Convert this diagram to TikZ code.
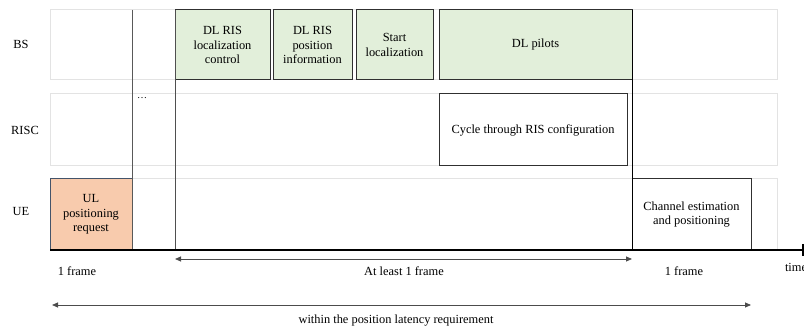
\documentclass[tikz,border=0pt]{standalone}
\usepackage{fontspec}
\setmainfont{Liberation Serif}
\usetikzlibrary{arrows.meta}
\definecolor{lanegray}{HTML}{E3E3E3}
\definecolor{dlgreen}{HTML}{E2EFDA}
\definecolor{ulorange}{HTML}{F8CBAD}
\definecolor{ulborder}{HTML}{44546A}
\definecolor{edge}{HTML}{303030}
\begin{document}
\begin{tikzpicture}[x=1pt,y=-1pt,
  every node/.style={font=\fontsize{12.4}{14.5}\selectfont, inner sep=0pt, outer sep=0pt},
  lane/.style={draw=lanegray, line width=1pt, anchor=north west},
  msg/.style={draw=edge, line width=1pt, fill=dlgreen, anchor=north west, align=center},
  plainbox/.style={draw=edge, line width=1pt, fill=white, anchor=north west, align=center},
  divider/.style={draw=edge!85, line width=1pt},
  span/.style={draw=black!70, line width=0.8pt, {Triangle[length=6pt,width=5pt]}-{Triangle[length=6pt,width=5pt]}},
  lbl/.style={anchor=center}
]
\useasboundingbox (0,0) rectangle (804,331);

% swim lanes
\node[lane, minimum width=727pt, minimum height=70pt] (bslane) at (50,10) {};
\node[lane, minimum width=727pt, minimum height=72pt] (risclane) at (50,94) {};
\node[lane, minimum width=727pt, minimum height=71pt] (uelane) at (50,179) {};

\node[lbl] (bs) at (21,44) {BS};
\node[lbl] (risc) at (25,130) {RISC};
\node[lbl] (ue) at (21,212) {UE};

% BS messages
\node[msg, minimum width=95pt, minimum height=70pt] (ctrl) at (175,10) {DL RIS\\localization\\control};
\node[msg, minimum width=79pt, minimum height=70pt] (posinfo) at (273,10) {DL RIS\\position\\information};
\node[msg, minimum width=77pt, minimum height=70pt] (start) at (356,10) {Start\\localization};
\node[msg, minimum width=193pt, minimum height=70pt] (pilots) at (439,10) {DL pilots};

% RISC activity
\node[plainbox, minimum width=188pt, minimum height=72pt] (cycle) at (439,94) {Cycle through RIS configuration};

% UE activities
\node[draw=ulborder, line width=1pt, fill=ulorange, anchor=north west, align=center,
      minimum width=82pt, minimum height=71pt] (ulreq) at (50,179) {UL\\positioning\\request};
\node[plainbox, minimum width=119pt, minimum height=71pt] (chest) at (632,179) {Channel estimation\\and positioning};

% frame dividers
\coordinate (d1top) at (132,10);  \coordinate (d1bot) at (132,250);
\coordinate (d2top) at (175,10);  \coordinate (d2bot) at (175,250);
\coordinate (d3top) at (632,10);  \coordinate (d3bot) at (632,250);
\draw[divider, draw=black!65] (d1top) -- (d1bot);
\draw[divider] (d2top) -- (d2bot);
\draw[line width=1pt, black] (d3top) -- (d3bot);
\node[lbl] (dots) at (142,98) {\fontsize{10}{10}\selectfont\dots};

% time axis
\coordinate (t0) at (50,250);
\coordinate (t1) at (803,250);
\draw[line width=2.2pt, black] (t0) -- (t1);
\coordinate (tk1) at (803,244); \coordinate (tk2) at (803,256);
\draw[line width=1.2pt] (tk1) -- (tk2);
\node[anchor=west] (time) at (785,267) {time};

% durations
\coordinate (a0) at (175,259); \coordinate (a1) at (632,259);
\draw[span] (a0) -- (a1);
\node[lbl] (f1) at (77,271) {1 frame};
\node[lbl] (fmid) at (404,271) {At least 1 frame};
\node[lbl] (f2) at (684,271) {1 frame};

\coordinate (b0) at (52,305); \coordinate (b1) at (751,305);
\draw[span] (b0) -- (b1);
\node[lbl] (lat) at (396,321) {within the position latency requirement};
\end{tikzpicture}
\end{document}
